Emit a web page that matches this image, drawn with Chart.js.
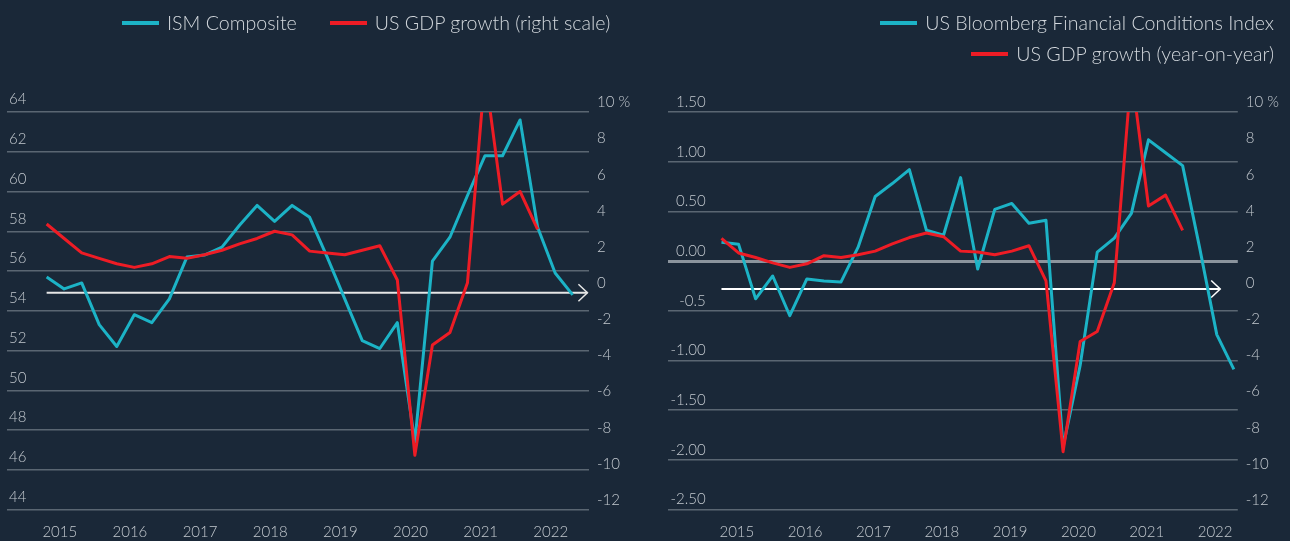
<!DOCTYPE html>
<html>
<head>
<meta charset="utf-8">
<script src="https://cdn.jsdelivr.net/npm/chart.js@4.4.0/dist/chart.umd.min.js"></script>
<style>
  html, body { margin: 0; padding: 0; background: #1a2838; }
  #wrap { position: relative; width: 1290px; height: 541px; overflow: hidden; font-family: Lato, sans-serif; }
  canvas { position: absolute; top: 0; }
  #ismChart { left: 0; }
  #fciChart { left: 645px; }
  .legend { position: absolute; top: 9px; color: #d3d8dd; font-size: 19.6px; font-weight: 300; line-height: 27px; }
  .legend .item { display: flex; align-items: center; white-space: nowrap; }
  .legend .swatch { width: 37px; height: 4px; margin-right: 8px; }
  #ismLegend { left: 122px; display: flex; column-gap: 33px; }
  #fciLegend { right: 16px; display: flex; flex-direction: column; align-items: flex-end; row-gap: 4px; }
</style>
</head>
<body>
<div id="wrap">
  <canvas id="ismChart" width="645" height="541"></canvas>
  <canvas id="fciChart" width="645" height="541"></canvas>
  <div id="ismLegend" class="legend"></div>
  <div id="fciLegend" class="legend"></div>
</div>
<script>
// quarterly, left chart starts 2015 Q1
const years = ['2015', '2016', '2017', '2018', '2019', '2020', '2021', '2022'];

const ismComposite = [
  55.7, 55.1, 55.4, 53.3, 52.2, 53.8, 53.4, 54.6, 56.7, 56.8,
  57.2, 58.3, 59.3, 58.5, 59.3, 58.7, 56.7, 54.6, 52.5, 52.1,
  53.4, 47.4, 56.5, 57.7, 59.8, 61.8, 61.8, 63.6, 58.2, 55.9,
  54.8
];
const gdpGrowthLeft = [
  3.8, 3.0, 2.2, 1.9, 1.6, 1.4, 1.6, 2.0, 1.9, 2.1,
  2.35, 2.7, 3.0, 3.4, 3.2, 2.3, 2.2, 2.1, 2.35, 2.6,
  0.7, -9.0, -2.9, -2.2, 0.55, 12.2, 4.9, 5.6, 3.5
];

const fciIndex = [
  0.19, 0.17, -0.38, -0.15, -0.55, -0.18, -0.20, -0.21, 0.14, 0.65,
  0.78, 0.92, 0.31, 0.26, 0.84, -0.08, 0.52, 0.58, 0.38, 0.41,
  -1.87, -1.05, 0.09, 0.23, 0.48, 1.22, 1.09, 0.96, 0.13, -0.74,
  -1.09
];
const gdpGrowthRight = [
  3.0, 2.2, 1.95, 1.65, 1.4, 1.6, 2.05, 1.95, 2.1, 2.3,
  2.7, 3.05, 3.3, 3.1, 2.3, 2.25, 2.1, 2.3, 2.6, 0.65,
  -8.8, -2.7, -2.15, 0.55, 12.2, 4.8, 5.4, 3.45
];

const fciTickValues = [1.5, 1, 0.5, 0, -0.5, -1, -1.5, -2, -2.5];
const fciTickLabels = ['1.50', '1.00', '0.50', '0.00', '-0.5', '-1.00', '-1.50', '-2.00', '-2.50'];

const CYAN = '#1cb3c6';
const RED = '#ee1c25';
const GRID = '#5a6672';
const TICK = '#c3c9cf';
const tickFont = { family: 'Lato', size: 15, weight: 300 };

const toPoints = arr => arr.map((v, i) => ({ x: i, y: v }));

const zeroArrow = {
  id: 'zeroArrow',
  beforeDatasetsDraw(chart, args, opts) {
    const { ctx } = chart;
    const xs = chart.scales.x, ys = chart.scales.y1;
    const x0 = xs.getPixelForValue(0);
    const x1 = xs.getPixelForValue(opts.end);
    const y = ys.getPixelForValue(opts.level);
    ctx.save();
    ctx.strokeStyle = opts.color;
    ctx.lineWidth = 2;
    ctx.beginPath();
    ctx.moveTo(x0, y);
    ctx.lineTo(x1, y);
    ctx.stroke();
    ctx.lineWidth = 1.5;
    ctx.beginPath();
    ctx.moveTo(x1 - 9, y - 8.5);
    ctx.lineTo(x1, y);
    ctx.lineTo(x1 - 9, y + 8.5);
    ctx.stroke();
    ctx.restore();
  }
};

function buildLegend(chart, el) {
  el.innerHTML = chart.data.datasets.map(ds =>
    `<div class="item"><span class="swatch" style="background:${ds.borderColor}"></span>${ds.label}</div>`
  ).join('');
}

function makeChart(id, cfg) {
  const ctx = document.getElementById(id).getContext('2d');
  return new Chart(ctx, {
    type: 'line',
    data: {
      datasets: [
        {
          label: cfg.mainLabel, data: toPoints(cfg.main), yAxisID: 'y',
          borderColor: CYAN, borderWidth: 3, borderJoinStyle: 'round',
          pointRadius: 0, tension: 0, order: 1,
        },
        {
          label: cfg.gdpLabel, data: toPoints(cfg.gdp), yAxisID: 'y1',
          borderColor: RED, borderWidth: 3, borderJoinStyle: 'round',
          pointRadius: 0, tension: 0, order: 0,
        },
      ],
    },
    options: {
      responsive: false,
      animation: false,
      layout: { padding: { top: 112, left: 0, right: 0, bottom: 0 } },
      plugins: {
        legend: { display: false },
        tooltip: { enabled: false },
        zeroArrow: cfg.arrow,
      },
      scales: {
        x: {
          type: 'linear',
          min: cfg.xMin, max: cfg.xMax,
          grid: { display: false, drawTicks: false },
          border: { display: false },
          afterBuildTicks: axis => { axis.ticks = years.map((y, k) => ({ value: k * 4 + cfg.yearOffset })); },
          afterFit: s => { s.height = 31.5; },
          ticks: {
            autoSkip: false, maxRotation: 0, padding: 14,
            color: TICK, font: tickFont,
            callback: (v, i) => years[i],
          },
        },
        y: cfg.leftAxis,
        y1: {
          position: 'right',
          min: -12, max: 10,
          grid: { display: false, drawTicks: false },
          border: { display: false },
          afterFit: s => { s.width = cfg.rightWidth; },
          ticks: {
            stepSize: 2, padding: 8, labelOffset: -9.5,
            color: TICK, font: tickFont,
            callback: v => v === 10 ? '10 %' : String(v),
          },
        },
      },
    },
    plugins: [zeroArrow],
  });
}

const ismChart = makeChart('ismChart', {
  mainLabel: 'ISM Composite',
  gdpLabel: 'US GDP growth (right scale)',
  main: ismComposite,
  gdp: gdpGrowthLeft,
  xMin: -2.26, xMax: 30.93,
  yearOffset: 0.75,
  rightWidth: 56,
  arrow: { end: 30.84, level: 0, color: '#e6e6e6' },
  leftAxis: {
    position: 'left',
    min: 44, max: 64,
    grid: { color: GRID, lineWidth: 1.5, drawTicks: false },
    border: { display: false },
    afterFit: s => { s.width = 7; },
    ticks: {
      stepSize: 2, mirror: true, padding: 2, labelOffset: -12.5,
      color: TICK, font: tickFont,
    },
  },
});

const fciChart = makeChart('fciChart', {
  mainLabel: 'US Bloomberg Financial Conditions Index',
  gdpLabel: 'US GDP growth (year-on-year)',
  main: fciIndex,
  gdp: gdpGrowthRight,
  xMin: -3.16, xMax: 30.23,
  yearOffset: 0.9,
  rightWidth: 52.2,
  arrow: { end: 29.2, level: 0.2, color: '#ffffff' },
  leftAxis: {
    position: 'left',
    min: -2.5, max: 1.5,
    grid: {
      color: c => c.tick && c.tick.value === 0 ? '#8b949d' : GRID,
      lineWidth: c => c.tick && c.tick.value === 0 ? 3 : 1.5,
      drawTicks: false,
    },
    border: { display: false },
    afterBuildTicks: axis => { axis.ticks = fciTickValues.map(v => ({ value: v })); },
    afterFit: s => { s.width = 22.5; },
    ticks: {
      mirror: true, crossAlign: 'far', padding: 3, labelOffset: -10,
      color: TICK, font: tickFont,
      callback: v => fciTickLabels[fciTickValues.indexOf(v)],
    },
  },
});

buildLegend(ismChart, document.getElementById('ismLegend'));
buildLegend(fciChart, document.getElementById('fciLegend'));
</script>
</body>
</html>
